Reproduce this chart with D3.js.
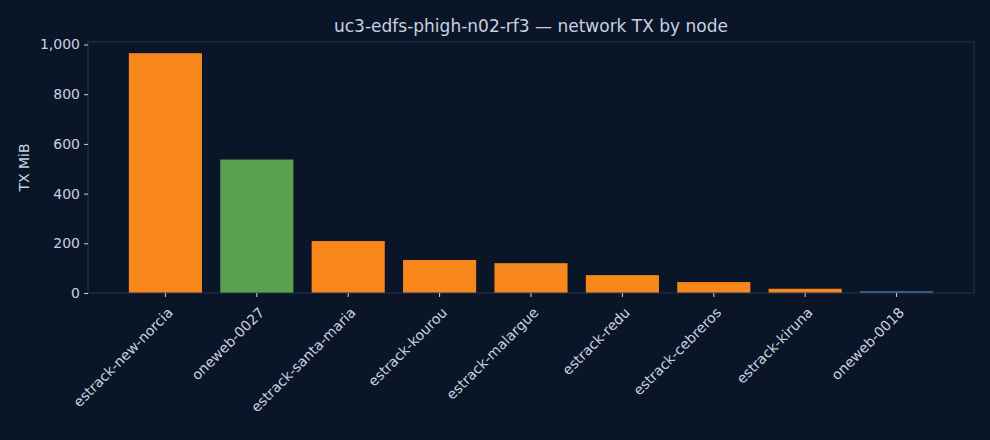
<!DOCTYPE html>
<html>
<head>
<meta charset="utf-8">
<script src="https://cdn.jsdelivr.net/npm/d3@7"></script>
<style>
  body { margin: 0; background: #0b1528; }
  text { font-family: "DejaVu Sans", sans-serif; }
</style>
</head>
<body>
<div id="chart"></div>
<script>
const nodes = ['estrack-new-norcia', 'oneweb-0027', 'estrack-santa-maria', 'estrack-kourou',
  'estrack-malargue', 'estrack-redu', 'estrack-cebreros', 'estrack-kiruna', 'oneweb-0018'];
const txMiB = [965, 537, 209, 133, 120, 72, 44, 17, 7];
const nodeGroup = ['estrack', 'oneweb', 'estrack', 'estrack', 'estrack', 'estrack', 'estrack', 'estrack', 'oneweb2'];
const yTicks = [0, 200, 400, 600, 800, 1000];

const W = 990, H = 440;
const margin = {top: 42, right: 16, bottom: 147, left: 88};
const colors = {estrack: '#f7871b', oneweb: '#59a14f', oneweb2: '#4e79a7'};
const textColor = '#c8d1e0';

const svg = d3.select('#chart').append('svg')
  .attr('width', W).attr('height', H)
  .style('background', '#0b1528');

const x = d3.scaleBand()
  .domain(nodes)
  .range([margin.left, W - margin.right])
  .paddingInner(0.2)
  .paddingOuter(0.447);

const y = d3.scaleLinear()
  .domain([0, 1010])
  .range([H - margin.bottom, margin.top]);

// bars
svg.selectAll('rect.bar')
  .data(nodes)
  .enter().append('rect')
  .attr('class', 'bar')
  .attr('x', d => x(d))
  .attr('width', x.bandwidth())
  .attr('y', (d, i) => y(txMiB[i]))
  .attr('height', (d, i) => y(0) - y(txMiB[i]))
  .attr('fill', (d, i) => colors[nodeGroup[i]]);

// frame
svg.append('rect')
  .attr('x', margin.left).attr('y', margin.top)
  .attr('width', W - margin.left - margin.right)
  .attr('height', H - margin.top - margin.bottom)
  .attr('fill', 'none').attr('stroke', '#26344d');

// y axis
const yAxis = svg.append('g')
  .attr('transform', `translate(${margin.left},0)`)
  .call(d3.axisLeft(y).tickValues(yTicks).tickSize(4).tickPadding(4));
yAxis.select('.domain').remove();
yAxis.selectAll('line').attr('stroke', textColor);
yAxis.selectAll('text').attr('fill', textColor).style('font-size', '14px');

// x axis
const xAxis = svg.append('g')
  .attr('transform', `translate(0,${H - margin.bottom})`)
  .call(d3.axisBottom(x).tickSize(4));
xAxis.select('.domain').remove();
xAxis.selectAll('line').attr('stroke', textColor);
xAxis.selectAll('text')
  .attr('fill', textColor)
  .style('font-size', '14px')
  .attr('text-anchor', 'end')
  .attr('dy', '0.35em')
  .attr('transform', 'translate(0,12) rotate(-45)');

// y label
svg.append('text')
  .attr('transform', `translate(29,${(margin.top + H - margin.bottom) / 2}) rotate(-90)`)
  .attr('text-anchor', 'middle')
  .attr('fill', textColor)
  .style('font-size', '14px')
  .text('TX MiB');

// title
svg.append('text')
  .attr('x', (margin.left + W - margin.right) / 2)
  .attr('y', 32)
  .attr('text-anchor', 'middle')
  .attr('fill', textColor)
  .style('font-size', '17px')
  .text('uc3-edfs-phigh-n02-rf3 — network TX by node');
</script>
</body>
</html>
